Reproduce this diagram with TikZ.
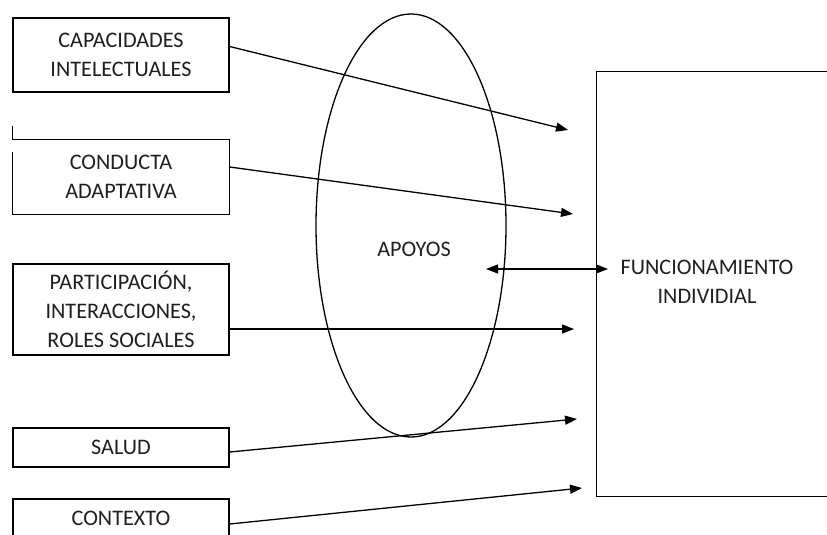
\documentclass[tikz,border=0pt]{standalone}
\usepackage{fontspec}
\setmainfont{Carlito}
\usetikzlibrary{arrows.meta}
\begin{document}
\begin{tikzpicture}[x=1pt,y=-1pt,
  line width=1.3pt,
  labelfont/.style={font=\fontsize{22.2}{29}\selectfont, text=black!88},
  factor/.style={draw, labelfont, align=center, minimum width=216pt, inner sep=0pt},
  arrowto/.style={-{Triangle[length=12pt,width=9pt]}},
  twoway/.style={{Triangle[length=12pt,width=9pt]}-{Triangle[length=12pt,width=9pt]}}]
  \useasboundingbox (0,0) rectangle (827,535);

  % factor boxes on the left
  \node[factor, minimum height=74pt] (cap) at (121,55) {CAPACIDADES\\INTELECTUALES};
  \node[factor, draw=none, minimum height=74pt] (cond) at (121,177) {CONDUCTA\\ADAPTATIVA};
  \draw ([yshift=13pt]cond.north west) -- (cond.north west) -- (cond.north east)
        -- (cond.south east) -- (cond.south west) -- ([yshift=-13pt]cond.north west);
  \node[factor, minimum height=91pt] (part) at (121,309.5) {PARTICIPACIÓN,\\INTERACCIONES,\\ROLES SOCIALES};
  \node[factor, minimum height=39pt] (salud) at (121,447.5) {SALUD};
  \node[factor, minimum height=39pt] (ctx) at (121,518.5) {CONTEXTO};

  % supports ellipse
  \draw (411,225.5) ellipse [x radius=95, y radius=211.5];
  \node[labelfont] (apoyos) at (414,249) {APOYOS};

  % individual functioning
  \node[draw, minimum width=260pt, minimum height=425pt, anchor=north west, inner sep=0pt] (func) at (596,71) {};
  \node[labelfont, align=center] (functext) at (707,282) {FUNCIONAMIENTO\\INDIVIDIAL};

  % arrow tips
  \coordinate (t1) at (568,130);
  \coordinate (t2) at (573,214);
  \coordinate (t3) at (574,329);
  \coordinate (t4) at (577,419);
  \coordinate (t5) at (582,488);
  \coordinate (bl) at (486,269);
  \coordinate (br) at (608,269);

  \draw[arrowto] (cap.east |- 0,46.5) -- (t1);
  \draw[arrowto] (cond.east |- 0,167) -- (t2);
  \draw[arrowto] (part.east |- 0,329) -- (t3);
  \draw[arrowto] (salud.east |- 0,452) -- (t4);
  \draw[arrowto] (ctx.east |- 0,524) -- (t5);
  \draw[twoway] (bl) -- (br);
\end{tikzpicture}
\end{document}
